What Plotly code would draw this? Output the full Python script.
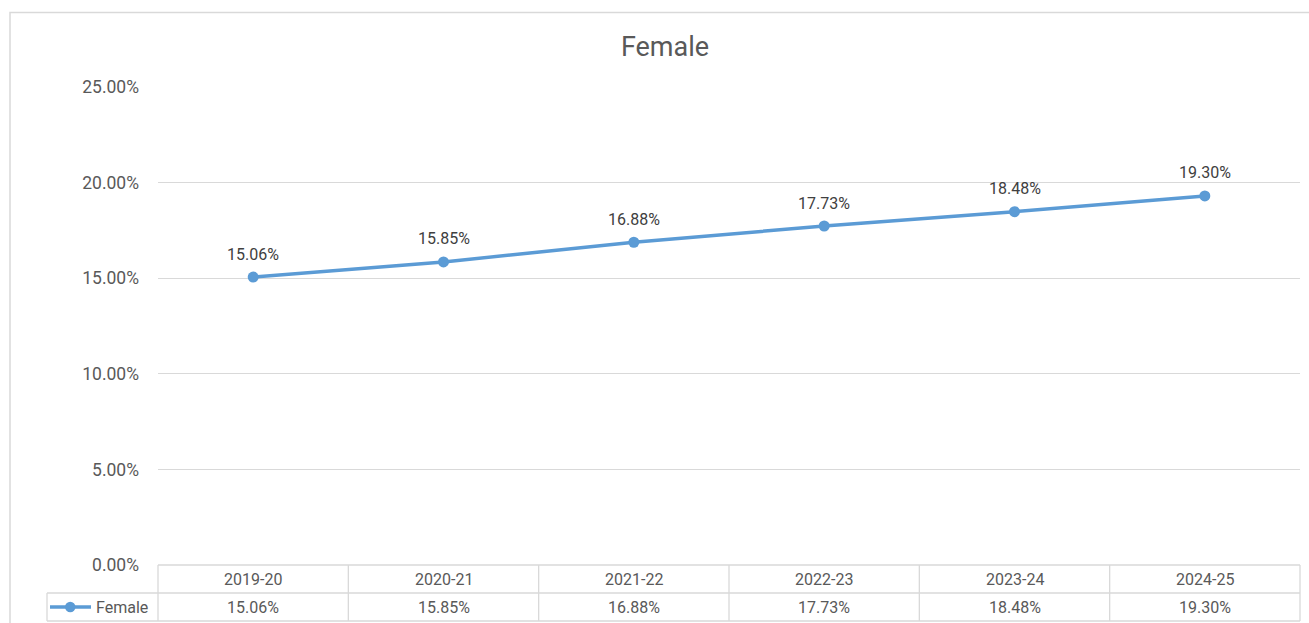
import plotly.graph_objects as go

years = ['2019-20', '2020-21', '2021-22', '2022-23', '2023-24', '2024-25']
female_pct = [15.06, 15.85, 16.88, 17.73, 18.48, 19.30]

W, H = 1309, 623
L, R, T, B = 158, 1300, 87, 565   # plot area in pixels
pw, ph = R - L, B - T

def px(x):
    return (x - L) / pw

def py(y):
    return (B - y) / ph

grid = '#d9d9d9'
txt = '#595959'
blue = '#5b9bd5'
font = 'Roboto'

labels = ['{:.2f}%'.format(v) for v in female_pct]

fig = go.Figure()
fig.add_trace(go.Scatter(
    x=list(range(len(years))), y=female_pct,
    mode='lines+markers',
    line=dict(color=blue, width=3.5),
    marker=dict(color=blue, size=11),
    cliponaxis=False, showlegend=False, hoverinfo='skip'
))

shapes = []
def hline(x0, x1, y):
    shapes.append(dict(type='line', xref='paper', yref='paper',
                       x0=px(x0), x1=px(x1), y0=py(y), y1=py(y),
                       line=dict(color=grid, width=1.3)))

def vline(x, y0, y1):
    shapes.append(dict(type='line', xref='paper', yref='paper',
                       x0=px(x), x1=px(x), y0=py(y0), y1=py(y1),
                       line=dict(color=grid, width=1.3)))

# chart border
shapes.append(dict(type='rect', xref='paper', yref='paper',
                   x0=px(10), x1=px(1320), y0=py(12.5), y1=py(640),
                   line=dict(color=grid, width=1.5)))

# data table grid
hline(L, R, 565)
hline(47, R, 593)
hline(47, R, 621)
vline(47, 593, 621)
for i in range(len(years) + 1):
    vline(L + i * pw / len(years), 565, 621)

# legend key in table
shapes.append(dict(type='line', xref='paper', yref='paper',
                   x0=px(50), x1=px(91), y0=py(607), y1=py(607),
                   line=dict(color=blue, width=3.5)))
shapes.append(dict(type='circle', xref='paper', yref='paper',
                   x0=px(65), x1=px(75.5), y0=py(601.7), y1=py(612.3),
                   fillcolor=blue, line=dict(color=blue, width=0)))

annotations = []
# data labels above points
for i, (v, lb) in enumerate(zip(female_pct, labels)):
    annotations.append(dict(x=i, y=v, xref='x', yref='y', text=lb, yshift=23,
                            yanchor='middle', showarrow=False,
                            font=dict(family=font, size=16, color='#404040')))
for i, (yr, lb) in enumerate(zip(years, labels)):
    annotations.append(dict(x=i, y=py(579), xref='x', yref='paper', text=yr,
                            yanchor='middle', showarrow=False,
                            font=dict(family=font, size=16, color=txt)))
    annotations.append(dict(x=i, y=py(607), xref='x', yref='paper', text=lb,
                            yanchor='middle', showarrow=False,
                            font=dict(family=font, size=16, color=txt)))
annotations.append(dict(x=px(94), y=py(607), xref='paper', yref='paper', text='Female',
                        xanchor='left', yanchor='middle', showarrow=False,
                        font=dict(family=font, size=16, color=txt)))

fig.update_layout(
    width=W, height=H, autosize=False,
    margin=dict(l=L, r=W - R, t=T, b=H - B),
    paper_bgcolor='white', plot_bgcolor='white',
    title=dict(text='Female', xref='container', x=665 / W, xanchor='center',
               yref='container', y=1 - 47 / H, yanchor='middle',
               font=dict(family=font, size=27, color=txt)),
    xaxis=dict(range=[-0.5, 5.5], showticklabels=False, showgrid=False,
               zeroline=False, showline=False, fixedrange=True),
    yaxis=dict(range=[0, 25], dtick=5, tickformat='.2f', ticksuffix='%',
               showgrid=True, gridcolor=grid, gridwidth=1.3, zeroline=False,
               showline=False, ticks='', ticklabelstandoff=18,
               tickfont=dict(family=font, size=17.5, color=txt), fixedrange=True),
    shapes=shapes, annotations=annotations,
)

fig.write_html('out.html', config={'displayModeBar': False},
               post_script="document.body.style.margin='0';")
